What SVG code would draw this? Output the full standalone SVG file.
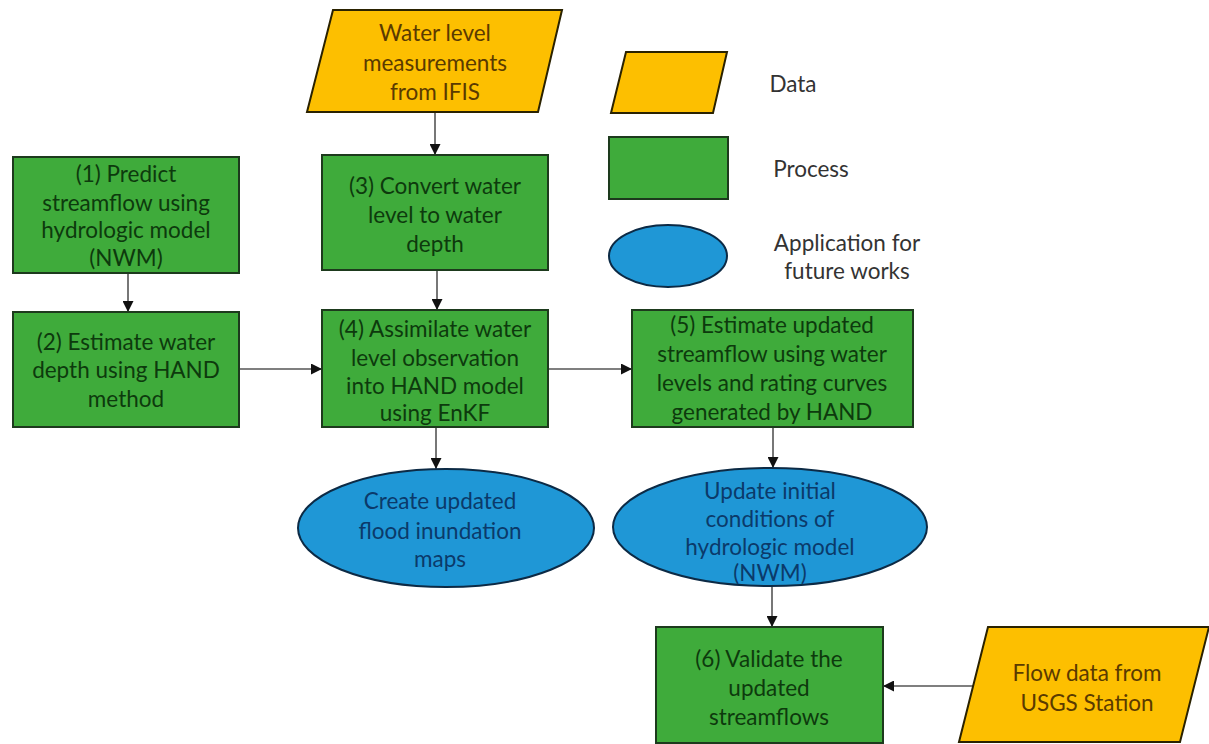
<svg xmlns="http://www.w3.org/2000/svg" width="1209" height="744" viewBox="0 0 1209 744">
  <style>
    .proc { fill: #3fab3b; stroke: #1d3a1d; stroke-width: 2; }
    .data { fill: #fdbf00; stroke: #2a2200; stroke-width: 2; }
    .app  { fill: #1f97d6; stroke: #0c2a45; stroke-width: 2; }
    text { font-family: Lato, "Open Sans", "Liberation Sans", sans-serif; font-size: 22.5px; text-anchor: middle; dominant-baseline: central; }
    .tp { fill: #0d3a0d; }
    .td { fill: #5a3a00; }
    .ta { fill: #0b3a6a; }
    .tl { fill: #333333; }
    .conn line { stroke: #555555; stroke-width: 1.6; }
  </style>
  <defs>
    <marker id="arrow" viewBox="0 0 10 10" refX="10" refY="5" markerWidth="11" markerHeight="11" markerUnits="userSpaceOnUse" orient="auto">
      <path d="M0,0 L10,5 L0,10 Z" fill="#111111"/>
    </marker>
  </defs>

  <rect width="1209" height="744" fill="#ffffff"/>

  <!-- connectors -->
  <g id="connectors" class="conn">
    <line x1="435" y1="112" x2="435" y2="155" marker-end="url(#arrow)"/>
    <line x1="128" y1="273" x2="128" y2="312" marker-end="url(#arrow)"/>
    <line x1="437" y1="270" x2="437" y2="310" marker-end="url(#arrow)"/>
    <line x1="239" y1="369" x2="322" y2="369" marker-end="url(#arrow)"/>
    <line x1="548" y1="369" x2="632" y2="369" marker-end="url(#arrow)"/>
    <line x1="436" y1="427" x2="436" y2="469" marker-end="url(#arrow)"/>
    <line x1="773" y1="427" x2="773" y2="468" marker-end="url(#arrow)"/>
    <line x1="772" y1="585" x2="772" y2="627" marker-end="url(#arrow)"/>
    <line x1="973" y1="686" x2="883" y2="686" marker-end="url(#arrow)"/>
  </g>

  <!-- data: water level measurements -->
  <g id="ifis">
    <polygon class="data" points="333,10 562,10 538,112 307,112"/>
    <text class="td" x="435" y="32">Water level</text>
    <text class="td" x="435" y="62">measurements</text>
    <text class="td" x="435" y="91">from IFIS</text>
  </g>

  <!-- (1) -->
  <g id="step1">
    <rect class="proc" x="13" y="157" width="226" height="116"/>
    <text class="tp" x="126" y="173">(1) Predict</text>
    <text class="tp" x="126" y="202">streamflow using</text>
    <text class="tp" x="126" y="229">hydrologic model</text>
    <text class="tp" x="126" y="257">(NWM)</text>
  </g>

  <!-- (2) -->
  <g id="step2">
    <rect class="proc" x="13" y="312" width="226" height="115"/>
    <text class="tp" x="126" y="341">(2) Estimate water</text>
    <text class="tp" x="126" y="369">depth using HAND</text>
    <text class="tp" x="126" y="398">method</text>
  </g>

  <!-- (3) -->
  <g id="step3">
    <rect class="proc" x="322" y="155" width="226" height="115"/>
    <text class="tp" x="435" y="185">(3) Convert water</text>
    <text class="tp" x="435" y="214">level to water</text>
    <text class="tp" x="435" y="243">depth</text>
  </g>

  <!-- (4) -->
  <g id="step4">
    <rect class="proc" x="322" y="310" width="226" height="117"/>
    <text class="tp" x="435" y="328">(4) Assimilate water</text>
    <text class="tp" x="435" y="357">level observation</text>
    <text class="tp" x="435" y="385">into HAND model</text>
    <text class="tp" x="435" y="412">using EnKF</text>
  </g>

  <!-- (5) -->
  <g id="step5">
    <rect class="proc" x="632" y="310" width="281" height="117"/>
    <text class="tp" x="772" y="324">(5) Estimate updated</text>
    <text class="tp" x="772" y="353">streamflow using water</text>
    <text class="tp" x="772" y="382">levels and rating curves</text>
    <text class="tp" x="772" y="411">generated by HAND</text>
  </g>

  <!-- application: flood maps -->
  <g id="floodmaps">
    <ellipse class="app" cx="446" cy="528" rx="148" ry="59"/>
    <text class="ta" x="440" y="500">Create updated</text>
    <text class="ta" x="440" y="530">flood inundation</text>
    <text class="ta" x="440" y="558">maps</text>
  </g>

  <!-- application: initial conditions -->
  <g id="initcond">
    <ellipse class="app" cx="770" cy="527" rx="157" ry="59"/>
    <text class="ta" x="770" y="490">Update initial</text>
    <text class="ta" x="770" y="518">conditions of</text>
    <text class="ta" x="770" y="546">hydrologic model</text>
    <text class="ta" x="770" y="572">(NWM)</text>
  </g>

  <!-- (6) -->
  <g id="step6">
    <rect class="proc" x="656" y="627" width="227" height="116"/>
    <text class="tp" x="769" y="658">(6) Validate the</text>
    <text class="tp" x="769" y="687">updated</text>
    <text class="tp" x="769" y="716">streamflows</text>
  </g>

  <!-- data: USGS -->
  <g id="usgs">
    <polygon class="data" points="988,627 1209,627 1180,742 959,742"/>
    <text class="td" x="1087" y="672">Flow data from</text>
    <text class="td" x="1087" y="702">USGS Station</text>
  </g>

  <!-- legend -->
  <g id="legend-data">
    <polygon class="data" points="626,52 727,52 713,113 611,113"/>
    <text class="tl" x="793" y="83">Data</text>
  </g>
  <g id="legend-process">
    <rect class="proc" x="609" y="137" width="119" height="62"/>
    <text class="tl" x="811" y="168">Process</text>
  </g>
  <g id="legend-app">
    <ellipse class="app" cx="668" cy="256" rx="59" ry="31"/>
    <text class="tl" x="847" y="242">Application for</text>
    <text class="tl" x="847" y="270">future works</text>
  </g>
</svg>
